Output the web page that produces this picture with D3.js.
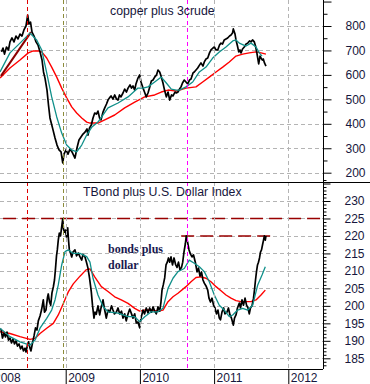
<!DOCTYPE html>
<html>
<head>
<meta charset="utf-8">
<script src="https://cdn.jsdelivr.net/npm/d3@7"></script>
<style>
  body { margin: 0; background: #fff; }
  svg { display: block; }
  text { font-family: "Liberation Sans", Arial, sans-serif; }
</style>
</head>
<body>
<div class="chart"></div>
<script>
// ---- data (decimal year, value) ----
const yearTicks = [2008, 2009, 2010, 2011, 2012];
const copperTicks = [200, 300, 400, 500, 600, 700, 800];
const bondTicks = [185, 190, 195, 200, 205, 210, 215, 220, 225, 230];
const eventYears = [2008.483, 2008.968, 2010.631];

const copperPrice = [
  [2008.135, 694], [2008.155, 710], [2008.175, 685], [2008.202, 714], [2008.229, 702],
  [2008.249, 735], [2008.276, 751], [2008.303, 735], [2008.330, 759], [2008.357, 747],
  [2008.384, 767], [2008.411, 759], [2008.437, 784], [2008.465, 800], [2008.488, 845],
  [2008.505, 808], [2008.526, 816], [2008.546, 775], [2008.573, 759], [2008.600, 735],
  [2008.627, 722], [2008.654, 694], [2008.681, 661], [2008.701, 612], [2008.721, 587],
  [2008.748, 538], [2008.768, 477], [2008.788, 424], [2008.809, 399], [2008.829, 375],
  [2008.856, 342], [2008.883, 313], [2008.910, 293], [2008.937, 285], [2008.960, 240],
  [2008.977, 276], [2009.004, 293], [2009.031, 276], [2009.058, 297], [2009.085, 285],
  [2009.112, 268], [2009.125, 260], [2009.152, 301], [2009.179, 334], [2009.206, 346],
  [2009.233, 358], [2009.260, 366], [2009.287, 379], [2009.300, 354], [2009.321, 383],
  [2009.345, 395], [2009.368, 424], [2009.391, 444], [2009.415, 440], [2009.435, 452],
  [2009.456, 424], [2009.476, 416], [2009.503, 448], [2009.526, 465], [2009.550, 481],
  [2009.570, 497], [2009.590, 506], [2009.611, 514], [2009.637, 501], [2009.660, 518],
  [2009.685, 501], [2009.705, 497], [2009.725, 518], [2009.745, 510], [2009.772, 526],
  [2009.795, 542], [2009.819, 530], [2009.840, 546], [2009.867, 559], [2009.887, 546],
  [2009.907, 555], [2009.930, 538], [2009.947, 563], [2009.974, 587], [2009.997, 600],
  [2010.015, 571], [2010.042, 546], [2010.062, 530], [2010.086, 510], [2010.109, 526],
  [2010.129, 546], [2010.154, 575], [2010.177, 579], [2010.199, 591], [2010.224, 600],
  [2010.244, 620], [2010.267, 612], [2010.284, 596], [2010.311, 567], [2010.332, 538],
  [2010.356, 510], [2010.379, 530], [2010.402, 497], [2010.426, 518], [2010.446, 514],
  [2010.473, 530], [2010.491, 526], [2010.513, 530], [2010.534, 542], [2010.554, 551],
  [2010.574, 567], [2010.598, 579], [2010.621, 571], [2010.644, 563], [2010.668, 579],
  [2010.689, 583], [2010.716, 608], [2010.733, 612], [2010.756, 620], [2010.779, 628],
  [2010.803, 640], [2010.823, 649], [2010.850, 636], [2010.868, 653], [2010.891, 665],
  [2010.914, 669], [2010.938, 690], [2010.958, 702], [2010.985, 710], [2011.003, 714],
  [2011.026, 702], [2011.049, 702], [2011.073, 722], [2011.093, 730], [2011.113, 726],
  [2011.137, 743], [2011.160, 747], [2011.183, 751], [2011.208, 759], [2011.228, 763],
  [2011.248, 771], [2011.259, 788], [2011.282, 767], [2011.295, 743], [2011.315, 718],
  [2011.332, 694], [2011.349, 702], [2011.363, 690], [2011.383, 706], [2011.407, 714],
  [2011.430, 726], [2011.453, 730], [2011.477, 739], [2011.497, 735], [2011.518, 743],
  [2011.542, 735], [2011.558, 718], [2011.574, 694], [2011.588, 669], [2011.601, 645],
  [2011.619, 677], [2011.632, 669], [2011.650, 661], [2011.663, 665], [2011.679, 649],
  [2011.699, 636]
];

const copperFast = [
  [2008.115, 612], [2008.249, 690], [2008.384, 730], [2008.519, 771], [2008.609, 743],
  [2008.677, 702], [2008.744, 608], [2008.811, 510], [2008.879, 428], [2008.946, 362],
  [2009.013, 313], [2009.081, 293], [2009.148, 285], [2009.216, 313], [2009.283, 354],
  [2009.354, 387], [2009.435, 407], [2009.570, 465], [2009.705, 485], [2009.840, 510],
  [2009.974, 546], [2010.042, 546], [2010.109, 551], [2010.199, 571], [2010.288, 591],
  [2010.356, 567], [2010.423, 542], [2010.491, 538], [2010.531, 538], [2010.621, 551],
  [2010.712, 571], [2010.801, 612], [2010.891, 632], [2010.981, 669], [2011.070, 694],
  [2011.160, 714], [2011.251, 739], [2011.295, 743], [2011.340, 730], [2011.430, 718],
  [2011.497, 730], [2011.565, 714], [2011.609, 690], [2011.646, 677]
];

const copperSlow = [
  [2008.115, 587], [2008.249, 628], [2008.384, 661], [2008.496, 690], [2008.563, 698],
  [2008.631, 698], [2008.677, 694], [2008.744, 669], [2008.811, 632], [2008.879, 591],
  [2008.946, 546], [2009.013, 506], [2009.081, 469], [2009.148, 444], [2009.216, 424],
  [2009.283, 407], [2009.327, 403], [2009.435, 403], [2009.526, 416], [2009.660, 436],
  [2009.795, 465], [2009.930, 489], [2010.065, 510], [2010.199, 518], [2010.288, 530],
  [2010.379, 538], [2010.491, 534], [2010.621, 546], [2010.756, 551], [2010.846, 571],
  [2010.935, 591], [2011.026, 612], [2011.116, 632], [2011.205, 653], [2011.295, 677],
  [2011.385, 685], [2011.474, 690], [2011.565, 694], [2011.632, 690], [2011.699, 685]
];

const copperTrend = [[2008.128, 596], [2008.532, 775]];

const bondPrice = [
  [2008.128, 193.4], [2008.148, 190.8], [2008.168, 192.2], [2008.189, 191.1], [2008.209, 192.5],
  [2008.229, 190.2], [2008.249, 190.8], [2008.270, 189.4], [2008.290, 190.5], [2008.310, 189.1],
  [2008.330, 190.0], [2008.350, 188.5], [2008.371, 189.1], [2008.391, 187.7], [2008.411, 188.5],
  [2008.431, 187.1], [2008.452, 187.9], [2008.465, 186.8], [2008.485, 188.8], [2008.499, 189.7],
  [2008.519, 187.9], [2008.532, 187.1], [2008.553, 189.4], [2008.573, 191.4], [2008.593, 193.7],
  [2008.613, 193.1], [2008.631, 195.7], [2008.654, 197.1], [2008.674, 198.8], [2008.698, 201.7],
  [2008.714, 198.2], [2008.734, 198.8], [2008.755, 202.5], [2008.765, 203.4], [2008.782, 201.1],
  [2008.798, 200.2], [2008.815, 203.7], [2008.833, 205.4], [2008.849, 207.4], [2008.863, 210.8],
  [2008.876, 214.3], [2008.887, 216.0], [2008.900, 218.8], [2008.914, 220.8], [2008.930, 220.0],
  [2008.946, 222.6], [2008.960, 224.9], [2008.970, 222.0], [2008.984, 221.1], [2008.997, 221.7],
  [2009.011, 219.7], [2009.027, 222.3], [2009.038, 218.8], [2009.049, 216.0], [2009.065, 215.1],
  [2009.081, 214.0], [2009.098, 215.4], [2009.125, 216.0], [2009.146, 214.3], [2009.170, 215.1],
  [2009.193, 214.0], [2009.216, 213.1], [2009.233, 214.8], [2009.260, 214.0], [2009.280, 212.5],
  [2009.300, 210.8], [2009.321, 208.0], [2009.345, 204.0], [2009.361, 200.2], [2009.381, 196.5],
  [2009.395, 198.2], [2009.412, 197.6], [2009.435, 200.0], [2009.458, 197.4], [2009.476, 199.4],
  [2009.503, 201.7], [2009.523, 199.1], [2009.547, 196.5], [2009.570, 198.8], [2009.593, 198.2],
  [2009.617, 200.0], [2009.637, 198.8], [2009.657, 197.7], [2009.682, 198.2], [2009.705, 199.4],
  [2009.728, 197.7], [2009.752, 198.5], [2009.772, 196.5], [2009.795, 197.7], [2009.816, 195.7],
  [2009.840, 197.7], [2009.863, 199.1], [2009.887, 197.7], [2009.907, 196.5], [2009.930, 197.7],
  [2009.952, 195.1], [2009.974, 195.4], [2009.997, 193.7], [2010.015, 196.5], [2010.042, 198.8],
  [2010.062, 197.7], [2010.086, 199.4], [2010.109, 198.0], [2010.132, 199.4], [2010.156, 198.2],
  [2010.177, 199.7], [2010.199, 198.5], [2010.221, 197.7], [2010.244, 199.7], [2010.267, 198.5],
  [2010.284, 201.1], [2010.298, 204.5], [2010.315, 206.0], [2010.334, 208.0], [2010.352, 211.7],
  [2010.369, 212.5], [2010.385, 213.7], [2010.402, 212.5], [2010.419, 214.0], [2010.439, 211.7],
  [2010.460, 213.7], [2010.480, 211.9], [2010.500, 211.0], [2010.520, 212.5], [2010.540, 210.3],
  [2010.561, 211.0], [2010.577, 212.5], [2010.594, 215.4], [2010.612, 217.7], [2010.625, 220.0],
  [2010.642, 218.3], [2010.662, 216.0], [2010.682, 214.8], [2010.702, 214.0], [2010.722, 214.6],
  [2010.747, 212.5], [2010.770, 209.7], [2010.790, 210.8], [2010.810, 208.5], [2010.830, 209.7],
  [2010.850, 207.4], [2010.868, 206.5], [2010.891, 205.7], [2010.914, 204.5], [2010.931, 202.2],
  [2010.951, 201.1], [2010.972, 202.2], [2010.992, 200.2], [2011.012, 199.4], [2011.032, 197.7],
  [2011.052, 198.8], [2011.070, 196.5], [2011.086, 196.0], [2011.106, 198.2], [2011.129, 199.4],
  [2011.146, 197.7], [2011.173, 198.2], [2011.193, 199.4], [2011.214, 197.4], [2011.234, 196.5],
  [2011.248, 195.4], [2011.259, 194.5], [2011.275, 196.5], [2011.295, 197.4], [2011.315, 199.4],
  [2011.340, 200.8], [2011.356, 199.4], [2011.376, 201.7], [2011.396, 200.2], [2011.417, 202.2],
  [2011.437, 200.2], [2011.457, 199.4], [2011.474, 197.7], [2011.490, 199.4], [2011.511, 200.0],
  [2011.531, 202.2], [2011.544, 204.5], [2011.558, 207.4], [2011.571, 209.7], [2011.585, 211.7],
  [2011.598, 212.5], [2011.612, 213.7], [2011.625, 215.4], [2011.639, 216.0], [2011.655, 217.7],
  [2011.666, 218.8], [2011.677, 220.0], [2011.690, 218.8], [2011.699, 220.0]
];

const bondFast = [
  [2008.115, 193.6], [2008.249, 191.2], [2008.384, 189.7], [2008.519, 188.8], [2008.586, 190.2],
  [2008.654, 193.6], [2008.744, 196.4], [2008.811, 198.8], [2008.856, 201.7], [2008.900, 206.0],
  [2008.946, 211.7], [2008.991, 215.5], [2009.035, 216.0], [2009.102, 215.0], [2009.193, 215.0],
  [2009.283, 214.1], [2009.327, 212.5], [2009.368, 207.9], [2009.435, 203.1], [2009.503, 199.8],
  [2009.570, 198.3], [2009.705, 197.9], [2009.840, 196.9], [2009.930, 196.9], [2009.997, 195.5],
  [2010.065, 196.9], [2010.154, 198.3], [2010.244, 198.3], [2010.311, 199.3], [2010.379, 205.0],
  [2010.446, 207.9], [2010.513, 209.8], [2010.598, 210.7], [2010.665, 213.1], [2010.733, 212.2],
  [2010.801, 211.2], [2010.868, 209.8], [2010.935, 206.9], [2011.003, 203.1], [2011.070, 200.2],
  [2011.137, 198.8], [2011.205, 196.9], [2011.251, 197.4], [2011.318, 198.8], [2011.385, 199.3],
  [2011.453, 198.8], [2011.520, 200.2], [2011.588, 206.0], [2011.646, 208.8], [2011.690, 211.2]
];

const bondSlow = [
  [2008.115, 192.6], [2008.249, 192.1], [2008.384, 191.2], [2008.519, 190.4], [2008.586, 190.7],
  [2008.654, 192.1], [2008.744, 193.6], [2008.833, 195.0], [2008.900, 197.4], [2008.968, 200.7],
  [2009.035, 204.0], [2009.102, 206.3], [2009.193, 208.5], [2009.274, 210.3], [2009.327, 210.6],
  [2009.391, 208.3], [2009.480, 205.5], [2009.570, 204.1], [2009.660, 202.6], [2009.749, 201.7],
  [2009.840, 200.7], [2009.930, 199.3], [2009.997, 198.5], [2010.065, 198.8], [2010.154, 198.8],
  [2010.244, 198.5], [2010.311, 198.8], [2010.379, 201.2], [2010.446, 202.6], [2010.513, 203.6],
  [2010.621, 205.5], [2010.689, 206.9], [2010.756, 208.1], [2010.823, 208.3], [2010.891, 207.9],
  [2010.958, 206.9], [2011.026, 205.5], [2011.093, 204.3], [2011.160, 203.1], [2011.228, 202.2],
  [2011.295, 201.5], [2011.363, 201.2], [2011.430, 201.2], [2011.497, 201.2], [2011.565, 201.7],
  [2011.632, 203.1], [2011.690, 204.5]
];

const bondLevels = [
  { value: 225, from: 2007.9, to: 2012.5 },
  { value: 220, from: 2010.556, to: 2011.767 }
];

// ---- layout ----
const W = 370, H = 384;
const plotRight = 323, splitY = 182, baseY = 369;
const navy = "#16163c";

const svg = d3.select(".chart").append("svg")
  .attr("width", W).attr("height", H);

const x = d3.scaleLinear().domain([2008, 2012]).range([-8.5, 288.3]);
const yTop = d3.scaleLinear().domain([200, 800]).range([172.7, 26]);
const yBot = d3.scaleLinear().domain([185, 230]).range([358.3, 201]);

const defs = svg.append("defs");
defs.append("clipPath").attr("id", "clipTop")
  .append("rect").attr("x", 0).attr("y", 0).attr("width", plotRight).attr("height", splitY);
defs.append("clipPath").attr("id", "clipBot")
  .append("rect").attr("x", 0).attr("y", splitY).attr("width", plotRight).attr("height", baseY - splitY);

const gTop = svg.append("g").attr("clip-path", "url(#clipTop)");
const gBot = svg.append("g").attr("clip-path", "url(#clipBot)");

// grid
gTop.selectAll(".hgrid").data(copperTicks).join("line")
  .attr("x1", 0).attr("x2", plotRight)
  .attr("y1", d => Math.round(yTop(d)) + 0.5).attr("y2", d => Math.round(yTop(d)) + 0.5)
  .attr("stroke", "#b4b4b4").attr("stroke-dasharray", "4,3");
gBot.selectAll(".hgrid").data(bondTicks).join("line")
  .attr("x1", 0).attr("x2", plotRight)
  .attr("y1", d => Math.round(yBot(d)) + 0.5).attr("y2", d => Math.round(yBot(d)) + 0.5)
  .attr("stroke", "#b4b4b4").attr("stroke-dasharray", "4,3");
svg.selectAll(".vgrid").data(yearTicks.slice(1)).join("line")
  .attr("x1", d => Math.round(x(d)) + 0.5).attr("x2", d => Math.round(x(d)) + 0.5)
  .attr("y1", 0).attr("y2", baseY)
  .attr("stroke", "#b4b4b4").attr("stroke-dasharray", "4,3");

// event markers
const eventColors = ["#e00000", "#8c8c3a", "#ff00ff"];
svg.selectAll(".event").data(eventYears).join("line")
  .attr("x1", d => Math.round(x(d)) + 0.5).attr("x2", d => Math.round(x(d)) + 0.5)
  .attr("y1", 0).attr("y2", baseY)
  .attr("stroke", (d, i) => eventColors[i]).attr("stroke-dasharray", "4,3");

// resistance levels
gBot.selectAll(".level").data(bondLevels).join("line")
  .attr("x1", d => x(d.from)).attr("x2", d => x(d.to))
  .attr("y1", d => yBot(d.value)).attr("y2", d => yBot(d.value))
  .attr("stroke", "#990000").attr("stroke-width", 1.6).attr("stroke-dasharray", "13,6");

function drawLine(g, y, data, color, width) {
  g.append("path").datum(data)
    .attr("fill", "none").attr("stroke", color).attr("stroke-width", width)
    .attr("stroke-linejoin", "round")
    .attr("d", d3.line().x(d => x(d[0])).y(d => y(d[1])));
}

drawLine(gTop, yTop, copperSlow, "#ff0000", 1.4);
drawLine(gTop, yTop, copperTrend, "#8b0000", 2);
drawLine(gTop, yTop, copperPrice, "#000", 1.7);
drawLine(gTop, yTop, copperFast, "#10908a", 1.3);

drawLine(gBot, yBot, bondSlow, "#ff0000", 1.4);
drawLine(gBot, yBot, bondPrice, "#000", 1.7);
drawLine(gBot, yBot, bondFast, "#10908a", 1.3);

// panel frames
svg.append("line").attr("x1", 0).attr("x2", W).attr("y1", splitY + 0.5).attr("y2", splitY + 0.5)
  .attr("stroke", "#000");
svg.append("line").attr("x1", plotRight + 0.5).attr("x2", plotRight + 0.5).attr("y1", 0).attr("y2", baseY)
  .attr("stroke", "#000");
svg.append("line").attr("x1", 0).attr("x2", plotRight).attr("y1", baseY + 0.5).attr("y2", baseY + 0.5)
  .attr("stroke", "#000");

// right axes
function rightAxis(scale, minor, major, minorSize, majorSize, maxLabel) {
  const g = svg.append("g").attr("transform", `translate(${plotRight + 0.5},0)`);
  g.append("g").call(d3.axisRight(scale).tickValues(minor).tickSize(minorSize).tickFormat(""));
  g.append("g").call(d3.axisRight(scale).tickValues(major).tickSize(majorSize).tickPadding(14)
    .tickFormat(d => d <= maxLabel ? d : ""));
  g.selectAll(".domain").remove();
  g.selectAll("line").attr("stroke", "#000");
  g.selectAll("text").attr("fill", navy).style("font-size", "12px")
    .style("font-family", "'Liberation Sans', Arial, sans-serif");
}
rightAxis(yTop, d3.range(250, 900, 100), d3.range(200, 901, 100), 4, 8, 800);
rightAxis(yBot, d3.range(183, 237).filter(v => v % 5 !== 0), d3.range(185, 236, 5), 3, 7, 230);

// bottom time axis
const xAxis = svg.append("g").attr("transform", `translate(0,${baseY})`)
  .call(d3.axisBottom(x).tickValues(yearTicks).tickSize(15).tickFormat(d3.format("d")));
xAxis.select(".domain").remove();
xAxis.selectAll("line").attr("stroke", "#000");
xAxis.selectAll("text")
  .attr("x", 2).attr("y", 13).attr("dy", 0).attr("text-anchor", "start")
  .attr("fill", navy).style("font-size", "12px")
  .style("font-family", "'Liberation Sans', Arial, sans-serif");

// titles
svg.append("text").attr("x", 110).attr("y", 15).attr("fill", navy)
  .style("font-size", "12.3px").text("copper plus 3crude");
svg.append("text").attr("x", 83).attr("y", 196).attr("fill", navy)
  .style("font-size", "12.3px").text("TBond plus U.S. Dollar Index");

const note = svg.append("text").attr("fill", "#1a1a50")
  .style("font-family", "'Liberation Serif', 'Times New Roman', serif")
  .style("font-weight", "bold").style("font-size", "12px");
note.append("tspan").attr("x", 108).attr("y", 253).text("bonds plus");
note.append("tspan").attr("x", 108).attr("y", 269).text("dollar");
</script>
</body>
</html>
